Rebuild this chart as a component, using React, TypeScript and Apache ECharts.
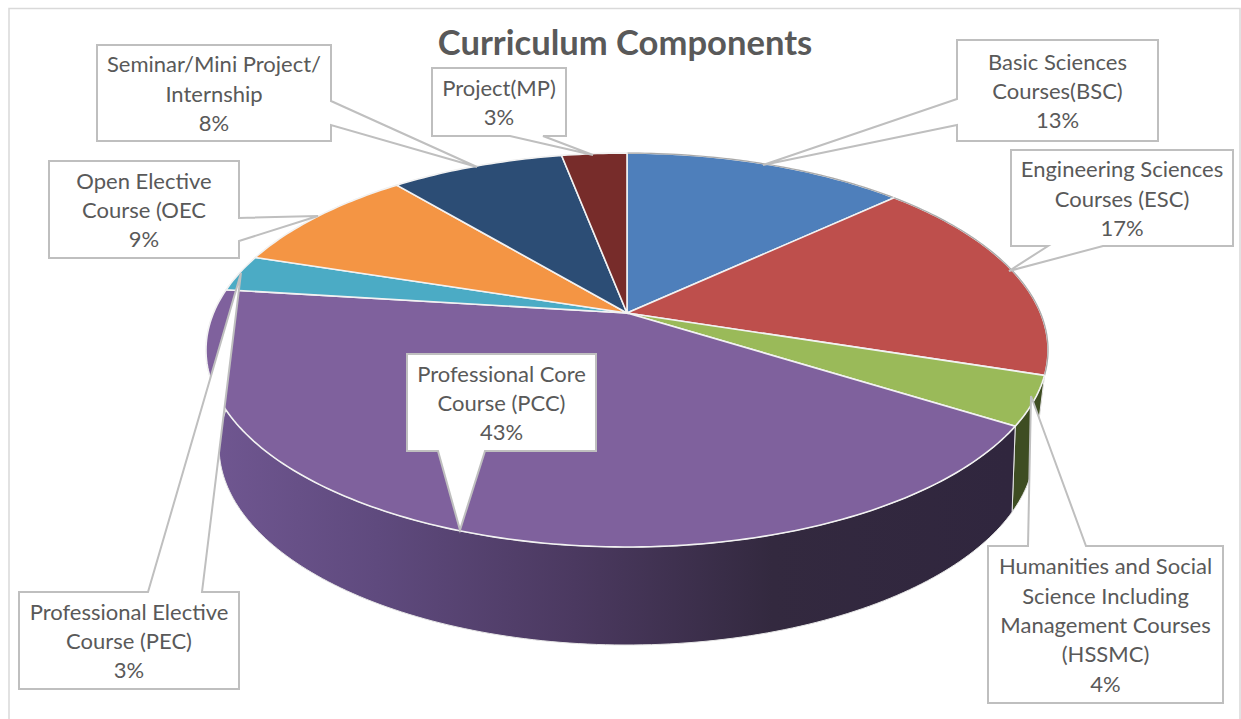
import React, { useEffect, useRef } from "react";
import * as echarts from "echarts";

const courseNames = [
  "Basic Sciences\nCourses(BSC)",
  "Engineering Sciences\nCourses (ESC)",
  "Humanities and Social\nScience Including\nManagement Courses\n(HSSMC)",
  "Professional Core\nCourse (PCC)",
  "Professional Elective\nCourse (PEC)",
  "Open Elective\nCourse (OEC",
  "Seminar/Mini Project/\nInternship",
  "Project(MP)",
];
const courseShares = [13, 17, 4, 43, 3, 9, 8, 3];

const topColors = ["#4e7fbb", "#be4f4c", "#9aba59", "#7f619d", "#4babc5", "#f49544", "#2c4d75", "#772c2a"];
const wallColors = ["#2c4a70", "#6f2d2b", "#3e4d22", "", "#2b6b7c", "#8f5625", "#1a2d45", "#451a19"];

const titleText = "Curriculum Components";

// Two perspective planes: the lit top disc and the lower rim of the cylinder.
type Plane = { cx: number; cy: number; a: number; b: number; k: number };
const topPlane: Plane = { cx: 627, cy: 313, a: 413.5, b: 190, k: 0.188 };
const basePlane: Plane = { cx: 627, cy: 397, a: 395, b: 186, k: 0.25 };

// Callout placement: box [left, top, right, bottom], then the pointer's three corners.
const callouts = [
  { box: [957, 40, 1158, 141], pointer: [[957, 99], [763, 165], [957, 125]], side: "left" },
  { box: [1011, 150, 1233, 246], pointer: [[1103, 246], [1009, 271], [1048, 246]], side: "bottom" },
  { box: [988, 546, 1223, 703], pointer: [[1028, 546], [1031, 396], [1086, 546]], side: "top" },
  { box: [407, 354, 596, 451], pointer: [[485, 451], [460, 530], [438, 451]], side: "bottom" },
  { box: [19, 592, 239, 689], pointer: [[148, 592], [241, 273], [202, 592]], side: "top" },
  { box: [49, 161, 239, 258], pointer: [[239, 241], [318, 216], [239, 218]], side: "right" },
  { box: [97, 45, 331, 141], pointer: [[331, 125], [477, 167], [331, 101]], side: "right" },
  { box: [432, 68, 566, 136], pointer: [[510, 136], [593, 155], [543, 136]], side: "bottom" },
];

const total = courseShares.reduce((s, v) => s + v, 0);
const sliceStarts = courseShares.map((_, i) =>
  courseShares.slice(0, i).reduce((s, v) => s + v, 0) / total
);

function project(p: Plane, frac: number): number[] {
  const t = frac * Math.PI * 2;
  const X = Math.sin(t);
  const Y = -Math.cos(t);
  const d = 1 - p.k * Y;
  return [p.cx + (p.a * X) / d, p.cy + (p.b * Y) / d];
}

function arc(p: Plane, from: number, to: number): number[][] {
  const n = Math.max(2, Math.ceil((to - from) * 360));
  const pts: number[][] = [];
  for (let i = 0; i <= n; i++) pts.push(project(p, from + ((to - from) * i) / n));
  return pts;
}

// Callout outline: walks the box clockwise and splices the pointer into its side.
function calloutOutline(c: (typeof callouts)[number]): number[][] {
  const [l, t, r, b] = c.box;
  const P = c.pointer;
  if (c.side === "top") {
    const base = [P[0], P[2]].sort((u, v) => u[0] - v[0]);
    return [[l, t], base[0], P[1], base[1], [r, t], [r, b], [l, b]];
  }
  if (c.side === "bottom") {
    const base = [P[0], P[2]].sort((u, v) => v[0] - u[0]);
    return [[l, t], [r, t], [r, b], base[0], P[1], base[1], [l, b]];
  }
  if (c.side === "right") {
    const base = [P[0], P[2]].sort((u, v) => u[1] - v[1]);
    return [[l, t], [r, t], base[0], P[1], base[1], [r, b], [l, b]];
  }
  const base = [P[0], P[2]].sort((u, v) => v[1] - u[1]);
  return [[l, t], [r, t], [r, b], [l, b], base[0], P[1], base[1]];
}

const wallShade = new echarts.graphic.LinearGradient(
  219, 0, 1010, 0,
  [
    { offset: 0, color: "#6f5690" },
    { offset: 0.2, color: "#5f4a7e" },
    { offset: 0.45, color: "#4b3960" },
    { offset: 0.7, color: "#33293f" },
    { offset: 1, color: "#30263e" },
  ],
  true
);

export default function App() {
  const ref = useRef<HTMLDivElement>(null);

  useEffect(() => {
    const chart = echarts.init(ref.current!, undefined, { renderer: "svg" });
    chart.setOption({
      animation: false,
      backgroundColor: "#ffffff",
      title: {
        text: titleText,
        left: 620,
        top: 19,
        textAlign: "center",
        textStyle: { fontFamily: "Lato", fontSize: 34.6, fontWeight: "bold", color: "#595959" },
      },
      graphic: [
        {
          type: "rect",
          z: 0,
          shape: { x: 9, y: 8.5, width: 1231, height: 720 },
          style: { fill: "none", stroke: "#d9d9d9", lineWidth: 1.5 },
        },
      ],
      series: [
        {
          // Outer wall of the cylinder
          type: "custom",
          coordinateSystem: "none",
          z: 2,
          data: courseShares,
          renderItem: (params: any) => {
            const i = params.dataIndex;
            const from = sliceStarts[i];
            const to = from + courseShares[i] / total;
            const points = [...arc(topPlane, from, to), ...arc(basePlane, from, to).reverse()];
            return {
              type: "polygon",
              shape: { points },
              style: {
                fill: wallColors[i] || wallShade,
                stroke: "#e6e6e6",
                lineWidth: 1,
              },
            };
          },
        },
        {
          // Top face of each slice; the far right rim catches a thin grey edge
          type: "custom",
          coordinateSystem: "none",
          z: 3,
          data: courseShares,
          renderItem: (params: any) => {
            const i = params.dataIndex;
            const from = sliceStarts[i];
            const to = from + courseShares[i] / total;
            const rim = arc(topPlane, from, to);
            const children: any[] = [
              {
                type: "polygon",
                shape: { points: [[topPlane.cx, topPlane.cy], ...rim] },
                style: { fill: topColors[i], stroke: "#f2f2f2", lineWidth: 1.6 },
              },
            ];
            if (i < 2) {
              children.push({
                type: "polyline",
                shape: { points: rim },
                style: { fill: "none", stroke: "#a8a8a8", lineWidth: 1.2 },
              });
            }
            return { type: "group", children };
          },
        },
        {
          // Callout boxes with their pointers and value text
          type: "custom",
          coordinateSystem: "none",
          z: 5,
          data: courseShares,
          renderItem: (params: any) => {
            const i = params.dataIndex;
            const c = callouts[i];
            const [l, t, r, b] = c.box;
            return {
              type: "group",
              children: [
                {
                  type: "polygon",
                  shape: { points: calloutOutline(c) },
                  style: { fill: "#ffffff", stroke: "#bfbfbf", lineWidth: 2 },
                },
                {
                  type: "text",
                  x: (l + r) / 2,
                  y: (t + b) / 2,
                  style: {
                    text: `${courseNames[i]}\n${courseShares[i]}%`,
                    fontFamily: "Lato",
                    fontSize: 22,
                    lineHeight: 29.4,
                    fill: "#595959",
                    align: "center",
                    verticalAlign: "middle",
                  },
                },
              ],
            };
          },
        },
      ],
    });
    return () => chart.dispose();
  }, []);

  return (
    <div
      ref={ref}
      style={{ position: "fixed", left: 0, top: 0, width: 1241, height: 719 }}
    />
  );
}
